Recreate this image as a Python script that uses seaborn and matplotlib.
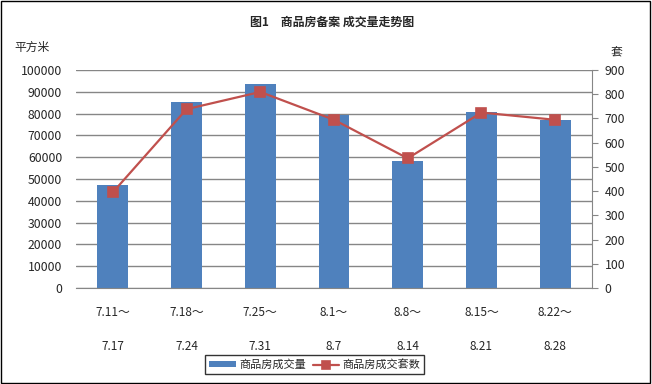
import matplotlib
matplotlib.use("Agg")
import matplotlib.pyplot as plt
import seaborn as sns
import pandas as pd
from matplotlib.patches import Rectangle

# data
weeks = ["7.11～\n\n7.17", "7.18～\n\n7.24", "7.25～\n\n7.31", "8.1～\n\n8.7",
         "8.8～\n\n8.14", "8.15～\n\n8.21", "8.22～\n\n8.28"]
area = [47300, 85300, 93600, 79400, 58400, 80700, 77100]   # 商品房成交量 (平方米)
units = [395, 738, 809, 694, 535, 724, 694]                # 商品房成交套数 (套)

df = pd.DataFrame({"week": weeks, "area": area, "units": units})

sns.set_style("white")
plt.rcParams["font.family"] = ["Noto Sans CJK SC", "DejaVu Sans"]

bar_color = "#4F81BD"
line_color = "#C0504D"
grid_color = "#868686"

fig = plt.figure(figsize=(6.52, 3.84), dpi=100)
ax = fig.add_axes([0.1166, 0.25, 0.7914, 0.568])

sns.barplot(data=df, x="week", y="area", color=bar_color, width=0.42,
            saturation=1, linewidth=0, ax=ax, label="商品房成交量")
ax.set_ylim(0, 100000)
ax.set_yticks(range(0, 100001, 10000))
ax.yaxis.grid(True, color=grid_color, linewidth=1)
ax.set_axisbelow(True)
ax.set_xlabel("")
ax.set_ylabel("")
ax.tick_params(axis="y", length=0, labelsize=8.8, pad=10)
ax.tick_params(axis="x", length=0, labelsize=8.5, pad=13)
for lbl in ax.get_xticklabels():
    lbl.set_linespacing(1.4)
for side in ["top", "left", "right"]:
    ax.spines[side].set_visible(False)
ax.spines["bottom"].set_color(grid_color)

ax2 = ax.twinx()
sns.pointplot(data=df, x="week", y="units", color=line_color, markers="s",
              markersize=7, linewidth=1.6, ax=ax2, label="商品房成交套数")
ax2.set_ylim(0, 900)
ax2.set_yticks(range(0, 901, 100))
ax2.set_ylabel("")
ax2.set_xlabel("")
ax2.set_xlim(-0.5, len(weeks) - 0.5)
ax.set_xlim(-0.5, len(weeks) - 0.5)
ax2.tick_params(axis="y", length=4, color=grid_color, labelsize=8.8, pad=5)
for side in ["top", "left", "bottom"]:
    ax2.spines[side].set_visible(False)
ax2.spines["right"].set_color(grid_color)
ax2.grid(False)
if ax2.get_legend():
    ax2.get_legend().remove()
if ax.get_legend():
    ax.get_legend().remove()

# titles and unit labels
fig.text(0.51, 0.943, "图1　商品房备案 成交量走势图", ha="center", va="center",
         fontsize=8.6, fontweight="bold")
fig.text(0.022, 0.877, "平方米", ha="left", va="center", fontsize=8.5)
fig.text(0.945, 0.862, "套", ha="center", va="center", fontsize=8.5)

h1, l1 = ax.get_legend_handles_labels()
h2, l2 = ax2.get_legend_handles_labels()
leg = fig.legend(h1 + h2, l1 + l2, ncol=2, loc="center",
                 bbox_to_anchor=(0.483, 0.05), fontsize=8, frameon=True,
                 fancybox=False, edgecolor="black", handlelength=2.4,
                 handleheight=0.45, handletextpad=0.3, columnspacing=0.6,
                 borderpad=0.35, markerscale=0.75)
leg.get_frame().set_linewidth(1)

# outer chart border
fig.patches.append(Rectangle((0.002, 0.003), 0.995, 0.994, transform=fig.transFigure,
                             fill=False, edgecolor="black", linewidth=1))

fig.savefig("out.png", dpi=100)
